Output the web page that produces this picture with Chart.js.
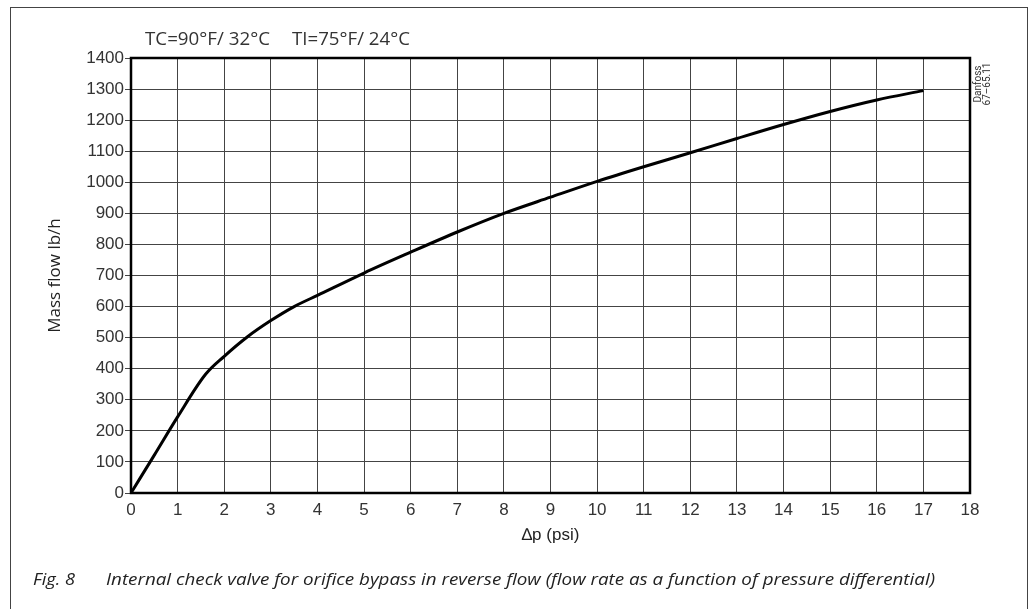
<!DOCTYPE html>
<html>
<head>
<meta charset="utf-8">
<script src="https://cdn.jsdelivr.net/npm/chart.js@4.4.0/dist/chart.umd.min.js"></script>
<style>
    html, body { margin: 0; padding: 0; background: #fff; overflow: hidden; }
    #wrap { position: relative; width: 1031px; height: 609px; overflow: hidden; }
    #frame { position: absolute; left: 10px; top: 7px; width: 1016px; height: 700px; border: 1px solid #444; }
    #chart { position: absolute; left: 0; top: 0; }
    .txt { position: absolute; white-space: nowrap; line-height: 1; color: #222; transform-origin: 0 0; }
    .hdr { font-family: "Open Sans", sans-serif; font-size: 18px; top: 29px; color: #333; }
    .cap { font-family: "Open Sans", sans-serif; font-style: italic; font-size: 17px; top: 570px; }
    #stamp { position: absolute; left: 952px; top: 75px; width: 60px; height: 18px; text-align: center;
             font-family: "Roboto", sans-serif; font-size: 10px; line-height: 9px; color: #333;
             transform: rotate(-90deg); transform-origin: 50% 50%; }
</style>
</head>
<body>
<div id="wrap">
    <div id="frame"></div>
    <canvas id="chart" width="1031" height="609"></canvas>
    <span class="txt hdr" id="hdr1" style="left:145px">TC=90°F/ 32°C</span>
    <span class="txt hdr" id="hdr2" style="left:292px">TI=75°F/ 24°C</span>
    <span class="txt cap" id="cap1" style="left:33px">Fig. 8</span>
    <span class="txt cap" id="cap2" style="left:106px">Internal check valve for orifice bypass in reverse flow (flow rate as a function of pressure differential)</span>
    <div id="stamp">Danfoss<br>67–65.11</div>
</div>
<script>
// Curve (Δp in psi, mass flow in lb/h)
const dpPsi = [0, 0.5, 1, 1.6, 2, 2.5, 3, 3.5, 4, 5, 6, 7, 8, 9, 10, 11, 12, 13, 14, 15, 16, 17];
const massFlow = [0, 122, 245, 382, 440, 503, 555, 600, 636, 708, 775, 840, 900, 952, 1003, 1050, 1095, 1141, 1186, 1228, 1265, 1295];

const xMin = 0, xMax = 18, xStep = 1;
const yMin = 0, yMax = 1400, yStep = 100;

// squeeze text to the widths seen in the reference
function fitWidth(id, w) {
    const el = document.getElementById(id);
    const cur = el.getBoundingClientRect().width;
    el.style.transform = `scaleX(${w / cur})`;
}
fitWidth("hdr1", 125);
fitWidth("hdr2", 118);
fitWidth("cap1", 42);
fitWidth("cap2", 829);

// frame round the plot area (top and right sides too)
const boxPlugin = {
    id: "box",
    afterDraw(chart) {
        const { ctx, chartArea: a } = chart;
        ctx.save();
        ctx.strokeStyle = "#000";
        ctx.lineWidth = 2.5;
        ctx.strokeRect(a.left, a.top, a.right - a.left, a.bottom - a.top);
        ctx.restore();
    }
};

const ctx = document.getElementById("chart").getContext("2d");
new Chart(ctx, {
    type: "line",
    data: {
        datasets: [{
            data: dpPsi.map((x, i) => ({ x, y: massFlow[i] })),
            borderColor: "#000",
            borderWidth: 3,
            pointRadius: 0,
            cubicInterpolationMode: "monotone",
            fill: false
        }]
    },
    options: {
        responsive: false,
        animation: false,
        layout: { padding: { top: 58, right: 61, left: 20, bottom: 60 } },
        plugins: { legend: { display: false }, tooltip: { enabled: false } },
        scales: {
            x: {
                type: "linear",
                min: xMin, max: xMax,
                afterFit: s => { s.height = 56; },
                ticks: { stepSize: xStep, color: "#333", padding: 7, maxRotation: 0,
                         font: { family: "Liberation Sans", size: 17 } },
                grid: { color: "#444", lineWidth: 1, drawTicks: false },
                border: { display: false },
                title: { display: true, text: "∆p (psi)", color: "#222",
                         font: { family: "Liberation Sans", size: 17 }, padding: { top: 0, bottom: 3 } }
            },
            y: {
                min: yMin, max: yMax,
                afterFit: s => { s.width = 111; },
                ticks: { stepSize: yStep, color: "#333", padding: 1, callback: v => String(v),
                         font: { family: "Liberation Sans", size: 17 } },
                grid: { color: "#444", lineWidth: 1, tickLength: 6 },
                border: { display: false },
                title: { display: true, text: "Mass flow lb/h", color: "#222",
                         font: { family: "Open Sans", size: 17 }, padding: { top: 25, bottom: 0 } }
            }
        }
    },
    plugins: [boxPlugin]
});
</script>
</body>
</html>
